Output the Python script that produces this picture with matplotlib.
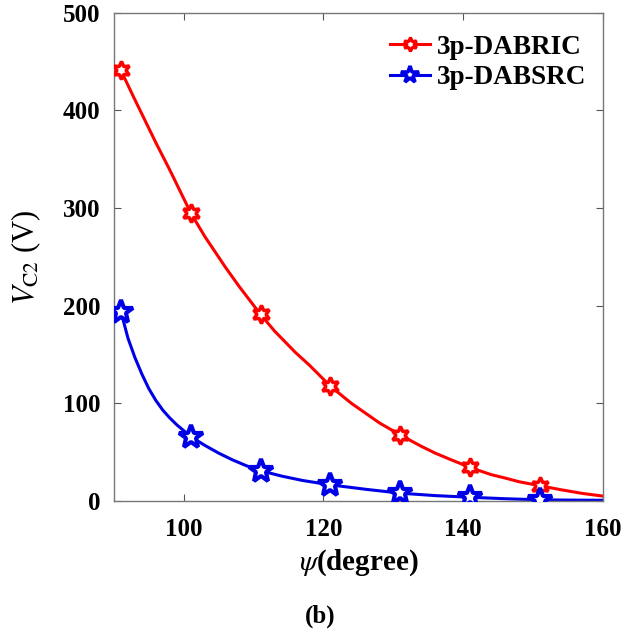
import matplotlib
matplotlib.use('Agg')
import matplotlib.pyplot as plt

plt.rcParams['font.family'] = ['Liberation Serif', 'DejaVu Serif']
plt.rcParams['mathtext.fontset'] = 'stix'

# marker samples (every 10 degrees)
psi_marks = [91, 101, 111, 121, 131, 141, 151]
vc2_ric_marks = [441, 295, 191, 117.5, 67.6, 34.3, 15.6]
vc2_src_marks = [194, 66, 31, 16.5, 8, 3.8, 1.2]

# densely sampled curves
psi_ric = [91, 93, 96, 98, 101, 103, 106, 108, 111, 113, 116, 118, 121,
           124, 126, 128, 131, 134, 136, 138, 141, 144, 146, 148, 151,
           154, 157, 160]
vc2_ric = [441, 411, 367, 339, 295, 271, 239, 219, 191, 174, 152, 139, 117.5,
           100, 90, 80, 67.6, 56, 49, 43, 34.3, 27, 23.5, 19.7, 15.6,
           11.5, 7.8, 5]

psi_src = [91, 92, 93, 94, 95, 96, 97, 98, 99, 100, 101, 103, 105, 107,
           109, 111, 114, 117, 121, 126, 131, 136, 141, 146, 151, 155, 160]
vc2_src = [194, 167, 147, 130, 115, 103, 93, 85, 78, 72, 66, 57, 49, 42,
           36, 31, 25.5, 21, 16.5, 12, 8, 5.5, 3.8, 2.3, 1.2, 0.9, 0.7]

fig = plt.figure(figsize=(6.4, 6.39), dpi=100)
ax = fig.add_axes([0.178, 0.216, 0.764, 0.764])

red = '#ff0000'
blue = '#0000e6'

ax.plot(psi_ric, vc2_ric, color=red, lw=2.2, zorder=2)
ax.plot(psi_src, vc2_src, color=blue, lw=2.2, zorder=2)
ax.plot(psi_marks, vc2_ric_marks, ls='none', marker=(6, 1, 0), ms=13,
        mfc='white', mec=red, mew=2.5, zorder=3)
ax.plot(psi_marks, vc2_src_marks, ls='none', marker='*', ms=18,
        mfc='white', mec=blue, mew=3.0, zorder=3)

# legend proxies: line + marker
h1, = ax.plot([], [], color=red, lw=2.2, marker=(6, 1, 0), ms=10,
              mfc='white', mec=red, mew=2.3, label='3p-DABRIC')
h2, = ax.plot([], [], color=blue, lw=2.2, marker='*', ms=13,
              mfc='white', mec=blue, mew=2.6, label='3p-DABSRC')
ax.legend(handles=[h1, h2], loc='upper right', bbox_to_anchor=(1.0, 0.988),
          frameon=False, prop={'weight': 'bold', 'size': 19.5},
          handlelength=1.5, handletextpad=0.25, labelspacing=0.2,
          borderaxespad=0.3, borderpad=0.3)

ax.set_xlim(90, 160)
ax.set_ylim(0, 500)
ax.set_xticks([100, 120, 140, 160])
ax.set_yticks([0, 100, 200, 300, 400, 500])
ax.tick_params(direction='in', length=5, width=0.8, color='#555555',
               top=True, right=True, labelsize=18)
ax.tick_params(axis='x', pad=12)
ax.tick_params(axis='y', pad=10)
for lbl in ax.get_xticklabels() + ax.get_yticklabels():
    lbl.set_fontweight('bold')
for sp in ax.spines.values():
    sp.set_color('#777777')
    sp.set_linewidth(1.0)

ax.set_ylabel(r'$V_{\mathrm{C2}}$ (V)', fontsize=22, va='center')
ax.yaxis.set_label_coords(-0.18, 0.5)
ax.set_xlabel(r'$\psi$(degree)', fontsize=21, fontweight='bold', va='center')
ax.xaxis.set_label_coords(0.5, -0.127)

fig.text(0.5, 0.036, '(b)', ha='center', va='center', fontsize=18,
         fontweight='bold')

fig.savefig('out.png', dpi=100)
